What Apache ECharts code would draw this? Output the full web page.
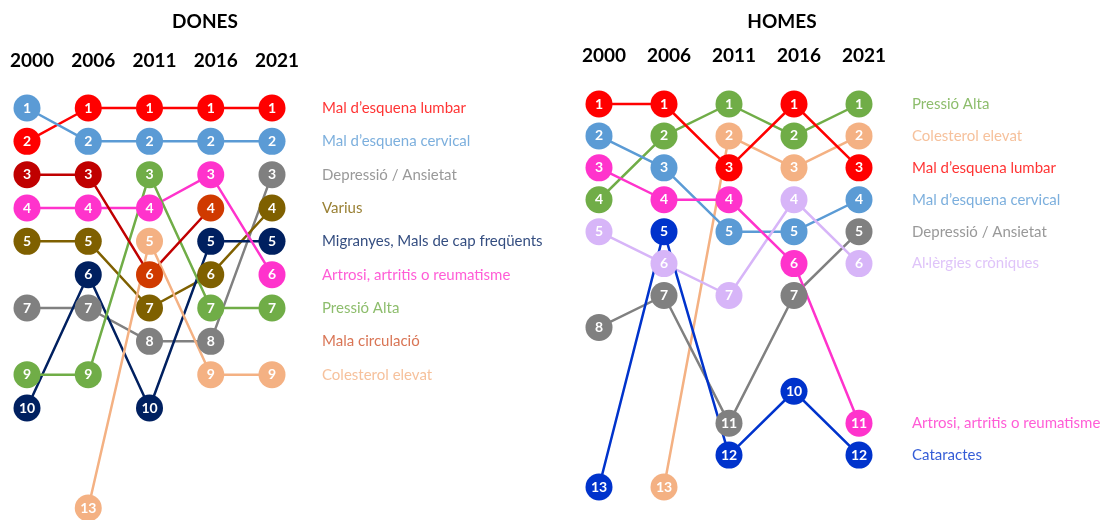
<!DOCTYPE html>
<html>
<head>
<meta charset="utf-8">
<script src="https://cdn.jsdelivr.net/npm/echarts@6/dist/echarts.min.js"></script>
<style>
  html, body { margin: 0; padding: 0; background: #fff; }
  #chart { width: 1120px; height: 520px; }
</style>
</head>
<body>
<div id="chart"></div>
<script>
const years = ['2000', '2006', '2011', '2016', '2021']

// DONES: rànquing per any (null = fora del rànquing)
const donesLumbar = [2, 1, 1, 1, 1]
const donesCervical = [1, 2, 2, 2, 2]
const donesDepressio = [7, 7, 8, 8, 3]
const donesVarius = [5, 5, 7, 6, 4]
const donesMigranyes = [10, 6, 10, 5, 5]
const donesArtrosi = [4, 4, 4, 3, 6]
const donesPressio = [9, 9, 3, 7, 7]
const donesCirculacio = [3, 3, 6, 4, null]
const donesColesterol = [null, 13, 5, 9, 9]
// posició de cada etiqueta a la dreta
const donesLabelRank = [1, 2, 3, 4, 5, 6, 7, 8, 9]

// HOMES
const homesPressio = [4, 2, 1, 2, 1]
const homesColesterol = [null, 13, 2, 3, 2]
const homesLumbar = [1, 1, 3, 1, 3]
const homesCervical = [2, 3, 5, 5, 4]
const homesDepressio = [8, 7, 11, 7, 5]
const homesAlergies = [5, 6, 7, 4, 6]
const homesArtrosi = [3, 4, 4, 6, 11]
const homesCataractes = [13, 5, 12, 10, 12]
const homesLabelRank = [1, 2, 3, 4, 5, 6, 11, 12]

const FONT = 'Lato, "Open Sans", sans-serif'

const donesSeries = [
  { name: 'Mal d’esquena lumbar', data: donesLumbar, color: '#FF0000' },
  { name: 'Mal d’esquena cervical', data: donesCervical, color: '#5B9BD5' },
  { name: 'Depressió / Ansietat', data: donesDepressio, color: '#808080' },
  { name: 'Varius', data: donesVarius, color: '#7F6000' },
  { name: 'Migranyes, Mals de cap freqüents', data: donesMigranyes, color: '#002060' },
  { name: 'Artrosi, artritis o reumatisme', data: donesArtrosi, color: '#FF33CC' },
  { name: 'Pressió Alta', data: donesPressio, color: '#70AD47' },
  { name: 'Mala circulació', data: donesCirculacio, color: '#C00000', pointColors: ['#C00000', '#C00000', '#D03A00', '#D03A00', null], labelColor: '#D0532A' },
  { name: 'Colesterol elevat', data: donesColesterol, color: '#F4B183' }
]

const homesSeries = [
  { name: 'Pressió Alta', data: homesPressio, color: '#70AD47' },
  { name: 'Colesterol elevat', data: homesColesterol, color: '#F4B183' },
  { name: 'Mal d’esquena lumbar', data: homesLumbar, color: '#FF0000' },
  { name: 'Mal d’esquena cervical', data: homesCervical, color: '#5B9BD5' },
  { name: 'Depressió / Ansietat', data: homesDepressio, color: '#808080' },
  { name: 'Al·lèrgies cròniques', data: homesAlergies, color: '#D7B5F8' },
  { name: 'Artrosi, artritis o reumatisme', data: homesArtrosi, color: '#FF33CC' },
  { name: 'Cataractes', data: homesCataractes, color: '#0033CC' }
]

/**
 * Línies + cercles numerats d'un panell
 */
function buildLines(list, idx) {
  return list.map(s => ({
    name: s.name,
    type: 'line',
    xAxisIndex: idx,
    yAxisIndex: idx,
    clip: false,
    connectNulls: false,
    symbol: 'circle',
    symbolSize: 27,
    lineStyle: { width: 2.5, color: s.color },
    itemStyle: { color: s.color },
    label: {
      show: true,
      position: 'inside',
      color: '#fff',
      fontFamily: FONT,
      fontWeight: 'bold',
      fontSize: 14,
      formatter: p => p.value
    },
    data: s.data.map((v, i) => s.pointColors && s.pointColors[i]
      ? { value: v, itemStyle: { color: s.pointColors[i] } }
      : v)
  }))
}

/**
 * Etiquetes de text a la dreta del panell
 */
function buildNames(list, ranks, idx, dist) {
  return {
    type: 'scatter',
    xAxisIndex: idx,
    yAxisIndex: idx,
    symbolSize: 0,
    silent: true,
    label: {
      show: true,
      position: 'right',
      distance: dist,
      fontFamily: FONT,
      fontSize: 15,
      formatter: p => p.name
    },
    data: list.map((s, i) => ({
      name: s.name,
      value: [years.length - 1, ranks[i]],
      label: { color: s.labelColor || s.color }
    }))
  }
}

function xAxisFor(idx, margin) {
  return {
    type: 'category',
    gridIndex: idx,
    data: years,
    position: 'top',
    boundaryGap: false,
    axisLine: { show: false },
    axisTick: { show: false },
    splitLine: { show: false },
    axisLabel: {
      margin: margin,
      color: '#000',
      fontFamily: FONT,
      fontWeight: 'bold',
      fontSize: 19,
      padding: [0, 0, 0, 10],
      interval: 0
    }
  }
}

function yAxisFor(idx) {
  return { type: 'value', gridIndex: idx, inverse: true, min: 1, max: 13, show: false }
}

const chart = echarts.init(document.getElementById('chart'))

chart.setOption({
  animation: false,
  graphic: [
    { type: 'text', x: 205, y: 22, style: { text: 'DONES', font: 'bold 19px ' + FONT, fill: '#000', align: 'center', verticalAlign: 'middle', textAlign: 'center', textVerticalAlign: 'middle' } },
    { type: 'text', x: 782, y: 22, style: { text: 'HOMES', font: 'bold 19px ' + FONT, fill: '#000', align: 'center', verticalAlign: 'middle', textAlign: 'center', textVerticalAlign: 'middle' } }
  ],
  grid: [
    { left: 27, top: 108, width: 245, height: 400 },
    { left: 599, top: 104, width: 260, height: 383 }
  ],
  xAxis: [xAxisFor(0, 38), xAxisFor(1, 39)],
  yAxis: [yAxisFor(0), yAxisFor(1)],
  series: [
    ...buildLines(donesSeries, 0),
    buildNames(donesSeries, donesLabelRank, 0, 50),
    ...buildLines(homesSeries, 1),
    buildNames(homesSeries, homesLabelRank, 1, 53)
  ]
})
</script>
</body>
</html>
